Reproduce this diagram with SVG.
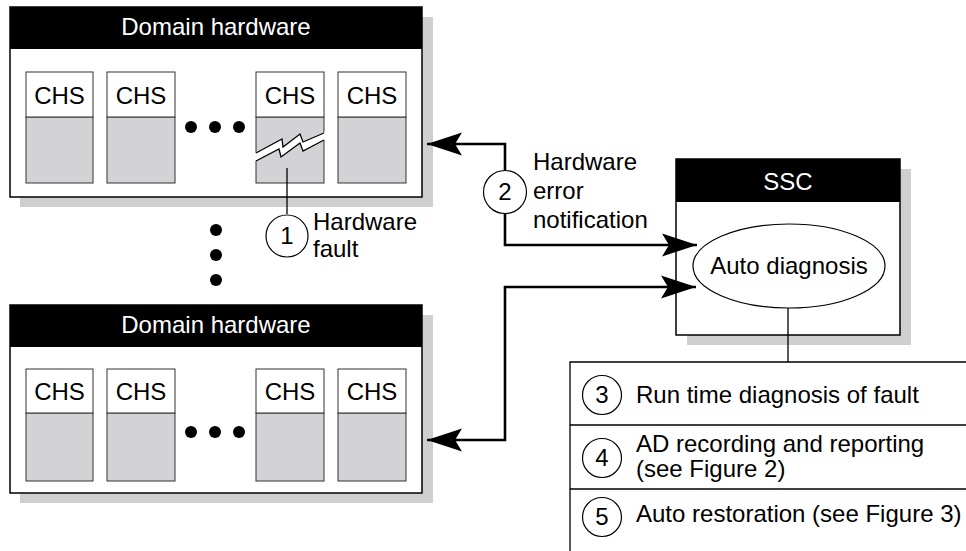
<svg xmlns="http://www.w3.org/2000/svg" width="966" height="551" viewBox="0 0 966 551">
  <defs>
    <style>
      text { font-family: "Liberation Sans", Arial, sans-serif; font-size: 24px; fill: #000; }
      .hdr { fill: #fff; text-anchor: middle; }
      .mid { text-anchor: middle; }
      .shadow { fill: #cfcfcf; stroke: none; }
      .frame { fill: #fff; stroke: #000; stroke-width: 1.5; }
      .bar { fill: #000; stroke: none; }
      .chs-top { fill: #fff; stroke: #333; stroke-width: 1; }
      .chs-low { fill: #d3d3d5; stroke: #333; stroke-width: 1; }
      .dot { fill: #000; }
      .badge { fill: #fff; stroke: #000; stroke-width: 1.2; }
      .thin { fill: none; stroke: #000; stroke-width: 1.3; }
      .conn { fill: none; stroke: #000; stroke-width: 2.6; }
    </style>
    <marker id="arrow" viewBox="-36 -12 37 24" refX="0" refY="0" markerWidth="37" markerHeight="24" markerUnits="userSpaceOnUse" orient="auto-start-reverse">
      <path d="M0,0 L-35,-11.5 L-28,0 L-35,11.5 Z" fill="#000"/>
    </marker>
  </defs>

  <!-- upper domain -->
  <g id="domain-top">
    <rect class="shadow" x="20" y="17" width="413" height="190"/>
    <rect class="frame" x="10" y="7" width="412" height="190"/>
    <rect class="bar" x="10" y="7" width="412" height="42"/>
    <text class="hdr" x="216" y="35">Domain hardware</text>
    <g id="chs-top-1">
      <rect class="chs-low" x="26" y="117" width="67" height="66"/>
      <rect class="chs-top" x="26" y="72" width="67" height="45"/>
      <text class="mid" x="59.5" y="104">CHS</text>
    </g>
    <g id="chs-top-2">
      <rect class="chs-low" x="107" y="117" width="68" height="66"/>
      <rect class="chs-top" x="107" y="72" width="68" height="45"/>
      <text class="mid" x="141" y="104">CHS</text>
    </g>
    <circle class="dot" cx="191" cy="127" r="6"/>
    <circle class="dot" cx="215" cy="127" r="6"/>
    <circle class="dot" cx="239" cy="127" r="6"/>
    <g id="chs-top-3">
      <rect class="chs-low" x="256" y="117" width="68" height="66"/>
      <rect class="chs-top" x="256" y="72" width="68" height="45"/>
      <text class="mid" x="290" y="104">CHS</text>
      <!-- crack across the faulty module -->
      <polygon points="255,153 282,139 283,147 300,134 303,142 325,132 325,140 303,151 300,143 281,157 279,149 255,161" fill="#fff"/>
      <polyline class="thin" points="256,153 282,139 283,147 300,134 303,142 324,133" stroke-width="1"/>
      <polyline class="thin" points="256,161 279,149 281,157 300,143 303,151 324,140" stroke-width="1"/>
    </g>
    <g id="chs-top-4">
      <rect class="chs-low" x="338" y="117" width="68" height="66"/>
      <rect class="chs-top" x="338" y="72" width="68" height="45"/>
      <text class="mid" x="372" y="104">CHS</text>
    </g>
  </g>

  <!-- vertical ellipsis between domains -->
  <g id="domain-gap">
    <circle class="dot" cx="216" cy="230" r="6"/>
    <circle class="dot" cx="216" cy="255" r="6"/>
    <circle class="dot" cx="216" cy="280" r="6"/>
  </g>

  <!-- lower domain -->
  <g id="domain-bottom">
    <rect class="shadow" x="20" y="315" width="413" height="188"/>
    <rect class="frame" x="10" y="305" width="412" height="188"/>
    <rect class="bar" x="10" y="305" width="412" height="42"/>
    <text class="hdr" x="216" y="333">Domain hardware</text>
    <g id="chs-bot-1">
      <rect class="chs-low" x="26" y="413" width="67" height="68"/>
      <rect class="chs-top" x="26" y="369" width="67" height="44"/>
      <text class="mid" x="59.5" y="400">CHS</text>
    </g>
    <g id="chs-bot-2">
      <rect class="chs-low" x="107" y="413" width="68" height="68"/>
      <rect class="chs-top" x="107" y="369" width="68" height="44"/>
      <text class="mid" x="141" y="400">CHS</text>
    </g>
    <circle class="dot" cx="191" cy="432" r="6"/>
    <circle class="dot" cx="215" cy="432" r="6"/>
    <circle class="dot" cx="239" cy="432" r="6"/>
    <g id="chs-bot-3">
      <rect class="chs-low" x="256" y="413" width="68" height="68"/>
      <rect class="chs-top" x="256" y="369" width="68" height="44"/>
      <text class="mid" x="290" y="400">CHS</text>
    </g>
    <g id="chs-bot-4">
      <rect class="chs-low" x="338" y="413" width="68" height="68"/>
      <rect class="chs-top" x="338" y="369" width="68" height="44"/>
      <text class="mid" x="372" y="400">CHS</text>
    </g>
  </g>

  <!-- system service controller -->
  <g id="ssc">
    <rect class="shadow" x="687" y="169" width="224" height="176"/>
    <rect class="frame" x="676" y="159" width="224" height="176"/>
    <rect class="bar" x="676" y="159" width="224" height="43"/>
    <text class="hdr" x="788" y="190">SSC</text>
  </g>

  <!-- connectors -->
  <g id="connectors">
    <line class="thin" x1="287" y1="168" x2="287" y2="214"/>
    <line class="thin" x1="788" y1="308" x2="788" y2="362"/>
    <path class="conn" d="M427,144 H505 V245 H697" marker-start="url(#arrow)" marker-end="url(#arrow)"/>
    <path class="conn" d="M427,440 H505 V287 H696" marker-start="url(#arrow)" marker-end="url(#arrow)"/>
  </g>

  <g id="auto-diagnosis">
    <ellipse class="badge" cx="789" cy="266" rx="96" ry="42"/>
    <text class="mid" x="789" y="274">Auto diagnosis</text>
  </g>

  <g id="step-1">
    <circle class="badge" cx="287" cy="236" r="21"/>
    <text class="mid" x="287" y="244">1</text>
    <text x="313" y="230">Hardware</text>
    <text x="313" y="257">fault</text>
  </g>

  <g id="step-2">
    <circle class="badge" cx="505" cy="192" r="21.5"/>
    <text class="mid" x="505" y="200">2</text>
    <text x="533" y="170">Hardware</text>
    <text x="533" y="199">error</text>
    <text x="533" y="228">notification</text>
  </g>

  <!-- diagnosis steps list -->
  <g id="steps">
    <path class="thin" d="M570,551 V362 H966 M570,425 H966 M570,489 H966"/>
    <g id="step-3">
      <circle class="badge" cx="602" cy="395" r="19.5"/>
      <text class="mid" x="602" y="403">3</text>
      <text x="636" y="403">Run time diagnosis of fault</text>
    </g>
    <g id="step-4">
      <circle class="badge" cx="602" cy="458" r="19.5"/>
      <text class="mid" x="602" y="466">4</text>
      <text x="636" y="452">AD recording and reporting</text>
      <text x="636" y="477">(see Figure 2)</text>
    </g>
    <g id="step-5">
      <circle class="badge" cx="602" cy="517" r="19.5"/>
      <text class="mid" x="602" y="525">5</text>
      <text x="636" y="522">Auto restoration (see Figure 3)</text>
    </g>
  </g>
</svg>
